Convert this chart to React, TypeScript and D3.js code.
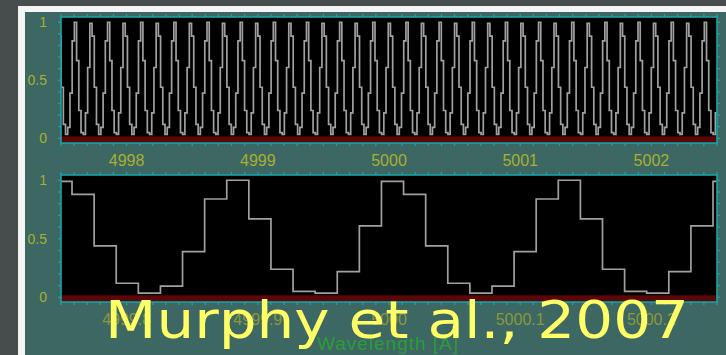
import React from "react";
import * as d3 from "d3";

// Sampled line profile: one value per detector pixel, repeating every 15 pixels
const pixelPattern = [0.88, 0.44, 0.12, 0.035, 0.095, 0.39, 0.84, 1.0, 0.67, 0.24, 0.05, 0.035, 0.22, 0.61, 0.99];
const pixelOrigin = 4999.7584; // left edge of the pixel that holds pixelPattern[0]
const pixelWidth = 0.016847; // Å per pixel

const topDomain = [4997.5, 5002.5];
const bottomDomain = [4999.75, 5000.25];
const topTicks = [4998, 4999, 5000, 5001, 5002];
const topTickLabels = ["4998", "4999", "5000", "5001", "5002"];
const bottomTicks = [4999.8, 4999.9, 5000.0, 5000.1, 5000.2];
const bottomTickLabels = ["4999.8", "4999.9", "5000", "5000.1", "5000.2"];
const yTicks = [0, 0.5, 1];
const yTickLabels = ["0", "0.5", "1"];

const W = 726;
const H = 355;
const PLOT_LEFT = 61;
const PLOT_RIGHT = 717;

const TEAL = "#3c6762";
const FRAME = "#1aa3a6";
const LABEL = "#a7b034";

type Pt = { w: number; v: number };

function buildSeries(domain: number[]): Pt[] {
  const k0 = Math.floor((domain[0] - pixelOrigin) / pixelWidth) - 1;
  const k1 = Math.ceil((domain[1] - pixelOrigin) / pixelWidth) + 1;
  const pts: Pt[] = [];
  const n = pixelPattern.length;
  for (let k = k0; k <= k1; k++) {
    pts.push({ w: pixelOrigin + k * pixelWidth, v: pixelPattern[((k % n) + n) % n] });
  }
  return pts;
}

type PanelProps = {
  id: string;
  top: number;
  bottom: number;
  domain: number[];
  ticks: number[];
  tickLabels: string[];
  minorStep: number;
  labelColor: string;
};

function Panel({ id, top, bottom, domain, ticks, tickLabels, minorStep, labelColor }: PanelProps) {
  const x = d3.scaleLinear().domain(domain).range([PLOT_LEFT, PLOT_RIGHT]);
  const y = d3.scaleLinear().domain([-0.04, 1.045]).range([bottom, top]);
  const series = buildSeries(domain);
  const line = d3
    .line<Pt>()
    .x((d) => x(d.w))
    .y((d) => y(d.v))
    .curve(d3.curveStepAfter);

  const minorX = d3
    .range(Math.ceil(domain[0] / minorStep - 1e-6), Math.floor(domain[1] / minorStep + 1e-6) + 1)
    .map((i) => i * minorStep);
  const minorY = d3.range(0, 11).map((i) => i / 10);

  return (
    <g>
      <defs>
        <clipPath id={id}>
          <rect x={PLOT_LEFT} y={top} width={PLOT_RIGHT - PLOT_LEFT} height={bottom - top} />
        </clipPath>
      </defs>
      <rect x={PLOT_LEFT} y={top} width={PLOT_RIGHT - PLOT_LEFT} height={bottom - top} fill="#000" />
      <g clipPath={`url(#${id})`}>
        <rect x={PLOT_LEFT} y={y(0) - 2} width={PLOT_RIGHT - PLOT_LEFT} height={bottom - y(0) + 1} fill="#5c0606" />
        <path d={line(series) || ""} fill="none" stroke="#a0a0a0" strokeWidth={1.7} strokeLinejoin="miter" />
      </g>
      <rect x={PLOT_LEFT} y={top} width={PLOT_RIGHT - PLOT_LEFT} height={bottom - top} fill="none" stroke={FRAME} strokeWidth={1.6} />
      {minorX.map((t, i) => (
        <g key={`mx${i}`} stroke={FRAME} strokeWidth={1.3}>
          <line x1={x(t)} x2={x(t)} y1={bottom} y2={bottom + 3} />
          <line x1={x(t)} x2={x(t)} y1={top} y2={top - 3} />
        </g>
      ))}
      {minorY.map((t, i) => (
        <g key={`my${i}`} stroke={FRAME} strokeWidth={1.3}>
          <line x1={PLOT_LEFT} x2={PLOT_LEFT - 3} y1={y(t)} y2={y(t)} />
          <line x1={PLOT_RIGHT} x2={PLOT_RIGHT + 3} y1={y(t)} y2={y(t)} />
        </g>
      ))}
      {ticks.map((t, i) => (
        <text
          key={`xl${i}`}
          x={x(t)}
          y={bottom + 23}
          fill={labelColor}
          fontSize={16}
          fontFamily="Liberation Sans, Arial, sans-serif"
          textAnchor="middle"
        >
          {tickLabels[i]}
        </text>
      ))}
      {yTicks.map((t, i) => (
        <text
          key={`yl${i}`}
          x={47}
          y={y(t) + 5}
          fill={LABEL}
          fontSize={14}
          fontFamily="Liberation Sans, Arial, sans-serif"
          textAnchor="end"
        >
          {yTickLabels[i]}
        </text>
      ))}
    </g>
  );
}

export default function App() {
  return (
    <svg
      width={W}
      height={H}
      style={{ position: "absolute", left: 0, top: 0, display: "block" }}
    >
      <rect x={0} y={0} width={W} height={H} fill="#474c4c" />
      <rect x={18} y={6} width={W - 18} height={H - 6} fill="#f4f4f4" />
      <rect x={25} y={12} width={W - 25} height={H - 12} fill={TEAL} />
      <Panel
        id="clip-top"
        top={17}
        bottom={143}
        domain={topDomain}
        ticks={topTicks}
        tickLabels={topTickLabels}
        minorStep={0.1}
        labelColor={LABEL}
      />
      <Panel
        id="clip-bottom"
        top={175}
        bottom={302}
        domain={bottomDomain}
        ticks={bottomTicks}
        tickLabels={bottomTickLabels}
        minorStep={0.01}
        labelColor="#8c983c"
      />
      <text
        x={388}
        y={350}
        fill="#2c9c3a"
        fontSize={19}
        letterSpacing={1}
        fontFamily="Liberation Sans, Arial, sans-serif"
        textAnchor="middle"
      >
        Wavelength [Å]
      </text>
      <text
        x={105}
        y={338}
        fill="#ffff66"
        fontSize={52}
        fontFamily="DejaVu Sans, sans-serif"
        textLength={584}
        lengthAdjust="spacingAndGlyphs"
      >
        Murphy et al., 2007
      </text>
    </svg>
  );
}
